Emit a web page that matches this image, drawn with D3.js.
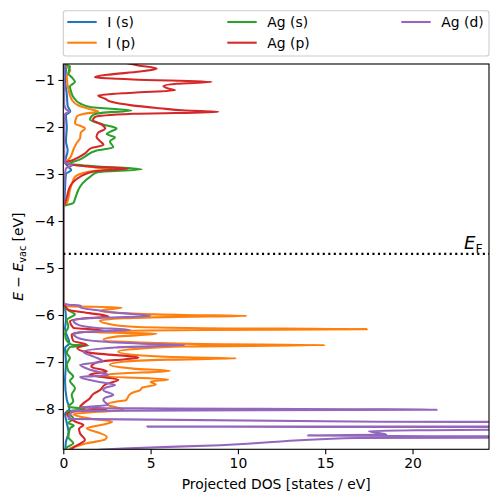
<!DOCTYPE html>
<html><head><meta charset="utf-8">
<script src="https://cdn.jsdelivr.net/npm/d3@7"></script>
<style>body{margin:0;background:#fff}svg{display:block}text{font-family:"DejaVu Sans",sans-serif}</style>
</head><body><svg id="c" width="498" height="502"></svg>
<script>
// ---- data: [energy (eV), projected DOS (states/eV)] ----
const seriesNames = ["I (s)", "I (p)", "Ag (s)", "Ag (p)", "Ag (d)"];
const seriesColors = ["#1f77b4", "#ff7f0e", "#2ca02c", "#d62728", "#9467bd"];
const xTicks = [0, 5, 10, 15, 20];
const yTicks = [-1, -2, -3, -4, -5, -6, -7, -8];
const fermiLevel = -4.7;

const iS = [[-0.5,0.1],[-0.8,0.15],[-1.0,0.1],[-1.3,0.2],[-1.55,0.25],[-1.67,0.4],[-1.75,0.15],[-2.0,0.2],[-2.3,0.15],[-2.5,0.25],[-2.75,0.1],[-2.85,0.3],[-2.92,0.45],[-3.0,0.15],[-3.3,0.1],[-3.6,0.05],[-3.7,0],
 [-5.75,0],[-5.85,0.1],[-6.1,0.15],[-6.3,0.1],[-6.6,0.35],[-6.7,0.1],[-7.0,0.15],[-7.4,0.1],[-7.8,0.2],[-8.0,0.35],[-8.1,0.1],[-8.3,0.2],[-8.5,0.3],[-8.7,0.15],[-9.0,0.1]];

const iP = [[-0.55,0.3],[-0.71,0.2],[-0.79,0.4],[-0.93,0.2],[-1.21,0.3],[-1.43,0.5],[-1.55,0.9],[-1.62,1.5],[-1.67,2.0],[-1.72,1.2],[-1.78,0.77],[-1.92,0.67],[-2.03,1.24],[-2.12,1.0],[-2.24,0.96],[-2.35,0.75],[-2.49,0.57],[-2.66,0.38],[-2.73,0.2],[-2.78,0.3],[-2.86,1.8],[-2.9,2.86],[-2.95,1.5],[-3.06,0.67],[-3.2,0.5],[-3.34,0.38],[-3.5,0.3],[-3.62,0.2],[-3.7,0],
 [-5.75,0],[-5.81,0.1],[-5.84,3.35],[-5.91,2.1],[-5.97,4.0],[-6.0,7.0],[-6.02,10.5],[-6.04,6.5],[-6.07,3.5],[-6.12,2.1],[-6.18,2.5],[-6.25,4.0],[-6.28,8.0],[-6.30,17.4],[-6.32,7.5],[-6.34,3.5],[-6.36,1.43],[-6.40,5.35],[-6.46,3.0],[-6.53,2.3],[-6.59,5.0],[-6.62,8.0],[-6.64,15.0],[-6.67,7.0],[-6.71,4.5],[-6.78,3.15],[-6.86,4.5],[-6.90,7.0],[-6.92,9.9],[-6.95,6.0],[-6.99,3.5],[-7.06,2.67],[-7.14,4.0],[-7.19,6.1],[-7.25,3.0],[-7.30,2.1],[-7.37,6.0],[-7.42,5.0],[-7.48,5.3],[-7.55,4.5],[-7.6,4.4],[-7.65,4.0],[-7.69,3.8],[-7.75,3.7],[-7.81,3.6],[-7.84,3.06],[-7.91,2.5],[-7.96,3.0],[-8.02,3.44],[-8.06,2.0],[-8.11,0.57],[-8.2,1.53],[-8.27,2.8],[-8.33,2.3],[-8.41,1.34],[-8.5,2.0],[-8.59,2.49],[-8.65,2.4],[-8.73,1.34],[-8.79,0.77],[-8.84,0.38],[-8.95,0.2]];

const agS = [[-0.55,0.3],[-0.68,0.2],[-0.71,0.38],[-0.86,0.29],[-0.95,0.5],[-1.04,0.67],[-1.14,0.38],[-1.25,0.45],[-1.36,0.57],[-1.5,0.96],[-1.58,1.6],[-1.65,3.9],[-1.70,2.2],[-1.74,1.72],[-1.84,1.53],[-1.95,2.3],[-2.03,3.05],[-2.1,2.7],[-2.15,2.49],[-2.22,2.96],[-2.31,2.67],[-2.43,2.86],[-2.5,1.91],[-2.63,1.24],[-2.70,0.9],[-2.77,0.38],[-2.84,2.0],[-2.9,4.49],[-2.96,2.0],[-3.06,1.53],[-3.2,1.1],[-3.34,0.86],[-3.5,0.7],[-3.62,0.57],[-3.67,0.1],[-3.7,0],
 [-5.75,0],[-5.81,0.05],[-5.9,0.3],[-5.99,0.67],[-6.05,0.4],[-6.1,0.2],[-6.25,0.29],[-6.4,0.1],[-6.55,0.2],[-6.63,0.48],[-6.65,1.43],[-6.68,0.38],[-6.81,0.2],[-6.91,0.38],[-7.05,0.2],[-7.19,0.29],[-7.31,0.57],[-7.4,0.38],[-7.56,0.67],[-7.7,0.48],[-7.84,0.57],[-7.95,0.29],[-8.0,1.24],[-8.05,0.2],[-8.2,0.57],[-8.3,0.29],[-8.35,0.6],[-8.41,0.38],[-8.6,0.29],[-8.73,0.57],[-8.82,0.2],[-8.95,0.1]];

const agP = [[-0.55,2.5],[-0.69,4.3],[-0.76,5.35],[-0.82,4.4],[-0.89,2.5],[-0.94,1.81],[-0.99,4.0],[-1.04,8.5],[-1.08,6.5],[-1.13,5.73],[-1.18,6.0],[-1.22,6.4],[-1.27,4.0],[-1.33,2.0],[-1.4,2.4],[-1.46,2.7],[-1.54,3.92],[-1.6,5.5],[-1.65,7.0],[-1.68,8.88],[-1.72,4.0],[-1.79,1.8],[-1.85,1.7],[-1.95,2.2],[-2.03,2.4],[-2.12,2.0],[-2.21,1.9],[-2.3,2.1],[-2.38,2.3],[-2.45,1.6],[-2.56,1.25],[-2.7,0.57],[-2.77,0.1],[-2.84,1.5],[-2.89,3.7],[-2.94,1.8],[-3.06,0.96],[-3.27,0.38],[-3.5,0.2],[-3.62,0.1],[-3.7,0],
 [-5.75,0],[-5.80,0.1],[-5.89,0.29],[-5.96,1.5],[-6.03,2.58],[-6.08,1.0],[-6.13,0.38],[-6.27,0.57],[-6.33,2.29],[-6.38,0.8],[-6.42,0.48],[-6.55,0.57],[-6.63,1.34],[-6.7,0.8],[-6.8,1.5],[-6.91,4.3],[-6.94,3.53],[-7.0,2.0],[-7.1,1.6],[-7.2,2.49],[-7.27,1.5],[-7.38,3.15],[-7.48,2.4],[-7.6,2.1],[-7.68,1.72],[-7.78,1.5],[-7.88,1.15],[-7.95,0.96],[-8.0,2.49],[-8.04,1.0],[-8.09,0.2],[-8.2,0.38],[-8.27,0.7],[-8.34,1.15],[-8.42,0.9],[-8.52,0.96],[-8.66,1.24],[-8.75,0.9],[-8.82,0.57],[-8.95,0.3]];

const agD = [[-0.55,0.05],[-1.0,0.05],[-1.5,0.05],[-1.62,0.15],[-1.67,0.35],[-1.72,0.1],[-2.0,0.05],[-2.5,0.05],[-2.75,0.1],[-2.82,0.5],[-2.88,0.15],[-3.2,0.05],[-3.7,0],
 [-5.74,0],[-5.78,0.3],[-5.80,1.0],[-5.84,0.96],[-5.9,2.0],[-5.95,3.0],[-6.02,5.0],[-6.07,1.5],[-6.11,0.57],[-6.2,0.8],[-6.27,1.8],[-6.32,3.82],[-6.36,1.2],[-6.4,0.57],[-6.48,0.8],[-6.56,2.0],[-6.61,4.5],[-6.64,6.97],[-6.69,3.0],[-6.78,1.15],[-6.88,1.7],[-6.99,2.29],[-7.06,0.96],[-7.17,1.6],[-7.28,2.58],[-7.32,0.96],[-7.42,2.0],[-7.49,2.96],[-7.55,2.4],[-7.6,2.29],[-7.7,2.86],[-7.76,2.4],[-7.81,2.29],[-7.86,2.4],[-7.91,2.58],[-7.975,1.0],[-8.015,21.4],[-8.04,0.5],[-8.12,0.4],[-8.21,0.3],[-8.27,18.1],[-8.28,40],[-8.37,40],[-8.375,4.8],[-8.385,40],[-8.40,40],[-8.45,21.0],[-8.47,17.5],[-8.545,18.5],[-8.56,14.0],[-8.575,19.0],[-8.60,40],[-8.615,16.8],[-8.77,9.0],[-8.84,3.4],[-8.92,0.5]];

const seriesData = [iS, iP, agS, agP, agD];

// ---- layout ----
const svg = d3.select("#c");
const L = 63.3, R = 489, T = 64, B = 449.3;
const x = d3.scaleLinear().domain([0, 24.38]).range([L, R]);
const y = d3.scaleLinear().domain([-8.857, -0.66]).range([B, T]);
const font = '"DejaVu Sans", sans-serif';
const LW = 2.08;

svg.append("defs").append("clipPath").attr("id", "clip")
  .append("rect").attr("x", L).attr("y", T).attr("width", R - L).attr("height", B - T);

const plot = svg.append("g").attr("clip-path", "url(#clip)");
const line = d3.line().x(d => x(d[1])).y(d => y(d[0])).curve(d3.curveMonotoneY);
seriesData.forEach((s, i) => {
  plot.append("path").datum(s).attr("d", line)
    .attr("fill", "none").attr("stroke", seriesColors[i]).attr("stroke-width", LW)
    .attr("stroke-linejoin", "round");
});

// Fermi level
plot.append("line").attr("x1", L).attr("x2", R).attr("y1", y(fermiLevel)).attr("y2", y(fermiLevel))
  .attr("stroke", "#000").attr("stroke-width", LW).attr("stroke-dasharray", "2.08,3.44");
const ef = svg.append("text").attr("x", 464).attr("y", y(fermiLevel) - 4.5)
  .attr("font-size", 18).attr("fill", "#000");
ef.append("tspan").attr("font-style", "italic").text("E");
ef.append("tspan").attr("font-size", 12.5).attr("dy", 4).text("F");

// axes
const fmt = d => (d < 0 ? "\u2212" + Math.abs(d) : String(d));
const xAxis = svg.append("g").attr("transform", `translate(0,${B})`)
  .call(d3.axisBottom(x).tickValues(xTicks).tickFormat(fmt).tickSize(4.86).tickPadding(3.5));
const yAxis = svg.append("g").attr("transform", `translate(${L},0)`)
  .call(d3.axisLeft(y).tickValues(yTicks).tickFormat(fmt).tickSize(4.86).tickPadding(3.5));
[xAxis, yAxis].forEach(g => {
  g.select(".domain").remove();
  g.selectAll(".tick line").attr("stroke", "#000").attr("stroke-width", 1.1);
  g.selectAll(".tick text").attr("font-family", font).attr("font-size", 13.9).attr("fill", "#000");
});
svg.append("rect").attr("x", L).attr("y", T).attr("width", R - L).attr("height", B - T)
  .attr("fill", "none").attr("stroke", "#000").attr("stroke-width", 1.1);

// axis labels
svg.append("text").attr("x", (L + R) / 2).attr("y", 489).attr("text-anchor", "middle")
  .attr("font-size", 13.9).attr("fill", "#000").text("Projected DOS [states / eV]");
const yl = svg.append("text").attr("transform", `translate(23,${(T + B) / 2}) rotate(-90)`)
  .attr("text-anchor", "middle").attr("font-size", 13.9).attr("fill", "#000");
yl.append("tspan").attr("font-style", "italic").text("E");
yl.append("tspan").text(" \u2212 ");
yl.append("tspan").attr("font-style", "italic").text("E");
yl.append("tspan").attr("font-size", 9.7).attr("dy", 3).text("vac");
yl.append("tspan").attr("dy", -3).text(" [eV]");

// legend
const lg = svg.append("g");
lg.append("rect").attr("x", L).attr("y", 10.7).attr("width", R - L).attr("height", 45.3)
  .attr("rx", 2.5).attr("fill", "#fff").attr("fill-opacity", 0.8).attr("stroke", "#cccccc").attr("stroke-width", 1.1);
const colX = [67.3, 227.3, 401.3];
const rowY = [22, 42.7];
seriesNames.forEach((n, i) => {
  const c = Math.floor(i / 2), r = i % 2;
  lg.append("line").attr("x1", colX[c]).attr("x2", colX[c] + 29.4).attr("y1", rowY[r]).attr("y2", rowY[r])
    .attr("stroke", seriesColors[i]).attr("stroke-width", LW);
  lg.append("text").attr("x", colX[c] + 40).attr("y", rowY[r]).attr("dy", "0.35em")
    .attr("font-size", 13.9).attr("fill", "#000").text(n);
});
</script></body></html>
